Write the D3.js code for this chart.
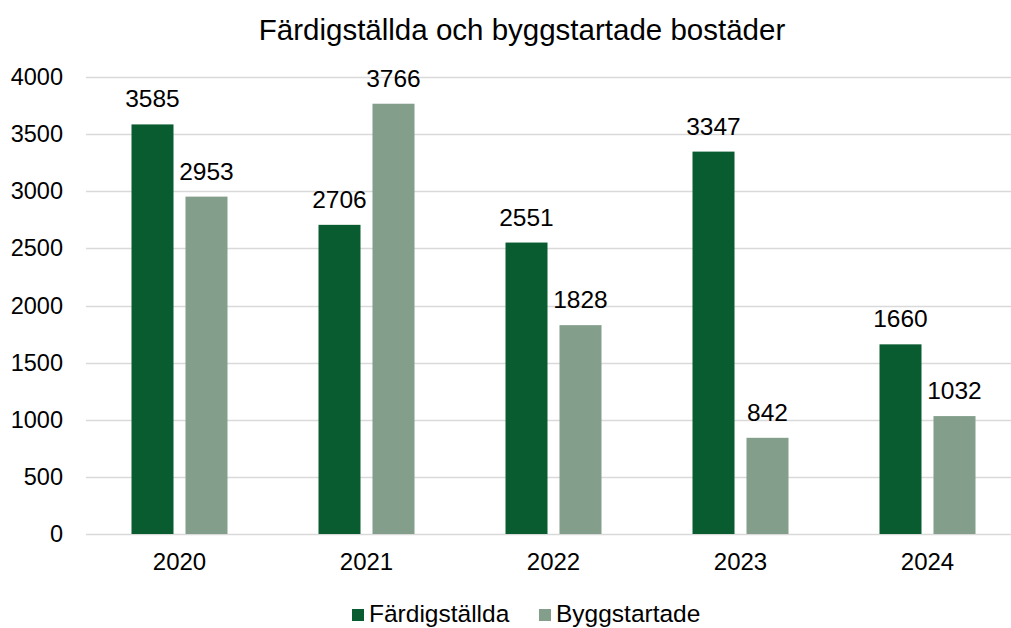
<!DOCTYPE html>
<html>
  <head>
    <meta charset="utf-8">
    <title>Färdigställda och byggstartade bostäder</title>
    <script src="https://cdn.jsdelivr.net/npm/d3@7"></script>
    <style>
    html, body {
        margin: 0;
        padding: 0;
        background: #fff;
    }
    #vis text {
        font-family: 'Liberation Sans', Arial, sans-serif;
        fill: #000;
    }
    </style>
  </head>
  <body>
    <div id="vis"></div>
    <script>

      var years = ['2020', '2021', '2022', '2023', '2024'];
      var seriesNames = ['Färdigställda', 'Byggstartade'];
      var fardigstallda = [3585, 2706, 2551, 3347, 1660];
      var byggstartade = [2953, 3766, 1828, 842, 1032];
      var yTicks = [0, 500, 1000, 1500, 2000, 2500, 3000, 3500, 4000];
      var colors = ['#095c30', '#839e8a'];

      var width = 1011;
      var height = 628;
      var plotLeft = 86, plotRight = 1021, plotTop = 77, plotBottom = 534;

      var svg = d3.select('#vis').append('svg')
          .attr('width', width)
          .attr('height', height);

      var x = d3.scaleBand().domain(years).range([plotLeft, plotRight]);
      var x1 = d3.scaleBand().domain(seriesNames)
          .range([x.bandwidth() / 2 - 48, x.bandwidth() / 2 + 48])
          .paddingInner(0.222);
      var y = d3.scaleLinear().domain([0, 4000]).range([plotBottom, plotTop]);

      // gridlines
      svg.append('g')
          .selectAll('line')
          .data(yTicks)
          .enter()
          .append('line')
          .attr('x1', plotLeft)
          .attr('x2', plotRight)
          .attr('y1', function(d) { return Math.round(y(d)) + 0.5; })
          .attr('y2', function(d) { return Math.round(y(d)) + 0.5; })
          .attr('stroke', '#d9d9d9')
          .attr('stroke-width', 1.5);

      // y axis labels
      var yAxis = svg.append('g')
          .attr('transform', 'translate(' + (plotLeft - 23) + ',0)')
          .call(d3.axisLeft(y).tickValues(yTicks).tickFormat(d3.format('d')).tickSize(0).tickPadding(0));
      yAxis.select('.domain').remove();
      yAxis.selectAll('text').style('font-size', '23.5px');

      // x axis labels
      var xAxis = svg.append('g')
          .attr('transform', 'translate(0,' + (plotBottom + 19) + ')')
          .call(d3.axisBottom(x).tickSize(0).tickPadding(0));
      xAxis.select('.domain').remove();
      xAxis.selectAll('text').style('font-size', '24px');

      var rows = [];
      years.forEach(function(yr, i) {
          rows.push({year: yr, name: seriesNames[0], value: fardigstallda[i], c: colors[0]});
          rows.push({year: yr, name: seriesNames[1], value: byggstartade[i], c: colors[1]});
      });

      svg.append('g')
          .selectAll('rect')
          .data(rows)
          .enter()
          .append('rect')
          .attr('x', function(d) { return x(d.year) + x1(d.name); })
          .attr('y', function(d) { return y(d.value); })
          .attr('width', x1.bandwidth())
          .attr('height', function(d) { return y(0) - y(d.value); })
          .attr('fill', function(d) { return d.c; });

      // data labels
      svg.append('g')
          .selectAll('text')
          .data(rows)
          .enter()
          .append('text')
          .attr('x', function(d) { return x(d.year) + x1(d.name) + x1.bandwidth() / 2; })
          .attr('y', function(d) { return y(d.value) - 17; })
          .attr('text-anchor', 'middle')
          .style('font-size', '24.5px')
          .text(function(d) { return d.value; });

      // title
      svg.append('text')
          .attr('x', 522)
          .attr('y', 40)
          .attr('text-anchor', 'middle')
          .style('font-size', '29.5px')
          .text('Färdigställda och byggstartade bostäder');

      // legend
      var legend = svg.append('g').attr('transform', 'translate(352,609)');
      var items = legend.selectAll('g')
          .data(seriesNames)
          .enter()
          .append('g')
          .attr('transform', function(d, i) { return 'translate(' + (i * 187) + ',0)'; });
      items.append('rect')
          .attr('width', 12)
          .attr('height', 12)
          .attr('fill', function(d, i) { return colors[i]; });
      items.append('text')
          .attr('x', 17)
          .attr('y', 13)
          .style('font-size', '24.5px')
          .text(function(d) { return d; });
    </script>
  </body>
</html>
